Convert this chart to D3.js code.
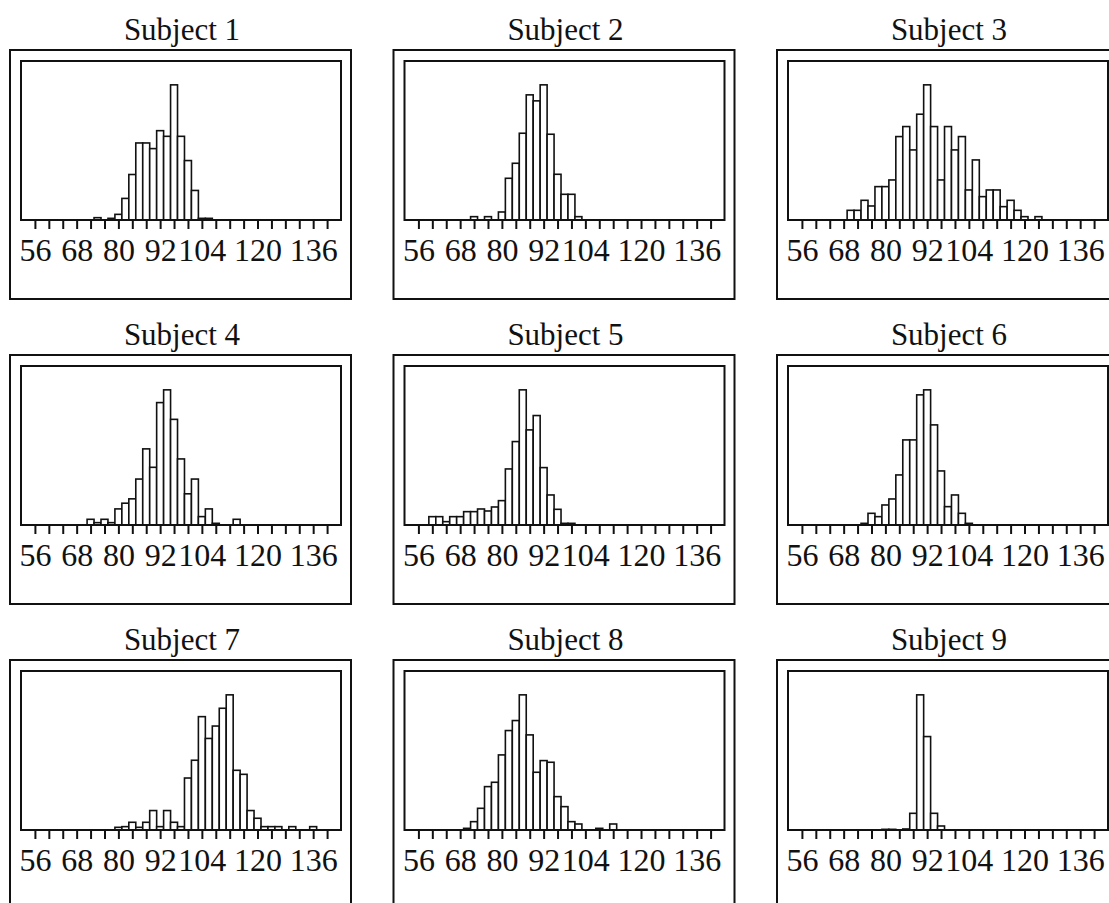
<!DOCTYPE html>
<html>
<head>
<meta charset="utf-8">
<script src="https://cdn.jsdelivr.net/npm/d3@7"></script>
<style>
  body { margin: 0; background: #fff; }
  text { font-family: "Liberation Serif", "Times New Roman", serif; fill: #111; }
</style>
</head>
<body>
<script>
// panel titles
var titles = ["Subject 1", "Subject 2", "Subject 3", "Subject 4", "Subject 5",
              "Subject 6", "Subject 7", "Subject 8", "Subject 9"];

// all bins are 2 units wide, the first bin of each subject starts here
var binWidth = 2;
var firstBin = [73, 71, 69, 71, 59, 73, 79, 69, 79];

// bar heights (tallest bar ~ 40)
var s1 = [0.7, 0, 0.5, 1.7, 6.5, 13.7, 23.2, 23.2, 21.5, 26.9, 25.2, 40.7, 25.2, 17.9, 8.9, 0.5, 0.5];
var s2 = [1, 0, 1, 0, 2.4, 12.5, 17, 26, 37.5, 35.7, 40.5, 25.7, 13.7, 7.7, 7.7, 1];
var s3 = [2.9, 2.9, 5.9, 4.2, 10, 10, 12, 25, 28, 21, 31.7, 40.5, 28, 12, 28, 21, 25, 9, 18, 7, 9, 9, 4, 5.9, 2.9, 1, 0, 1];
var s4 = [1.7, 0.7, 1.7, 0.7, 4.8, 6.5, 7.8, 13.7, 22.7, 17.2, 36.5, 40.3, 31.5, 19.7, 9.3, 13.7, 2.5, 4.8, 0.5, 0, 0, 1.7];
var s5 = [2.5, 2.5, 1, 2.5, 2.5, 4, 4, 4.8, 4.2, 5.4, 7.3, 16.8, 25, 40.5, 28.5, 32.8, 17.2, 9, 4.7, 0.5, 0.5];
var s6 = [0.5, 3.5, 2.5, 6, 7.8, 15, 25.5, 25.5, 39, 40.5, 30, 16.2, 5.5, 9, 3.5, 0.5];
var s7 = [0.8, 1, 2.3, 0.8, 2.3, 5.8, 1, 5.8, 2.3, 1, 15.5, 20.8, 33.8, 27.3, 31, 36.3, 40.3, 17.8, 16.6, 5.8, 3.5, 1, 1, 1, 0, 1, 0, 0, 1];
var s8 = [0.5, 2.5, 6.5, 13, 14.3, 22.5, 29.8, 32.8, 40.5, 28.5, 17.3, 20.8, 20.3, 10, 7, 2.5, 1.8, 0, 0, 0.5, 0, 1.8];
var s9 = [0.2, 0.2, 0, 0.3, 5, 40.5, 28, 5, 1.2];
var heights = [s1, s2, s3, s4, s5, s6, s7, s8, s9];

// x axis
var tickValues = [56, 60, 64, 68, 72, 76, 80, 84, 88, 92, 96, 100, 104, 108, 112, 116, 120, 124, 128, 132, 136, 140];
var tickLabels = [56, 68, 80, 92, 104, 120, 136];

var W = 1109, H = 903;
var plotW = 320, plotH = 159;

var svg = d3.select("body").append("svg").attr("width", W).attr("height", H);

var x = d3.scaleLinear().domain([52, 144]).range([0, plotW]);

titles.forEach(function(title, i){
  var col = i % 3, row = Math.floor(i / 3);
  var g = svg.append("g")
      .attr("transform", "translate(" + (21 + col * 383.5) + "," + (61 + row * 305) + ")");

  var bins = heights[i].map(function(v, k){
    return {x0: firstBin[i] + k * binWidth, x1: firstBin[i] + (k + 1) * binWidth, n: v};
  });

  // tallest bar fills about 85% of the plot height
  var y = d3.scaleLinear()
      .domain([0, d3.max(bins, d => d.n) / 0.85])
      .range([plotH, 0]);

  // outer frame
  g.append("rect")
      .attr("x", -11).attr("y", -11)
      .attr("width", plotW + 21).attr("height", 249)
      .attr("fill", "none").attr("stroke", "#111").attr("stroke-width", 2);

  g.append("text")
      .attr("x", plotW / 2 + 1).attr("y", -21)
      .attr("text-anchor", "middle")
      .style("font-size", "31px")
      .text(title);

  g.selectAll(".bar").data(bins.filter(d => d.n > 0)).enter()
    .append("rect").attr("class", "bar")
      .attr("x", d => x(d.x0))
      .attr("width", d => x(d.x1) - x(d.x0))
      .attr("y", d => y(d.n))
      .attr("height", d => plotH - y(d.n))
      .attr("fill", "#fff").attr("stroke", "#111").attr("stroke-width", 1.6);

  // inner plot box
  g.append("rect")
      .attr("width", plotW).attr("height", plotH)
      .attr("fill", "none").attr("stroke", "#111").attr("stroke-width", 2);

  var axis = d3.axisBottom(x)
      .tickValues(tickValues)
      .tickSize(9)
      .tickPadding(9)
      .tickFormat(d => tickLabels.indexOf(d) >= 0 ? d : "");

  var ax = g.append("g").attr("transform", "translate(0," + plotH + ")").call(axis);
  ax.select(".domain").remove();
  ax.selectAll("line").attr("stroke", "#111").attr("stroke-width", 2);
  ax.selectAll("text")
      .style("font-size", "32px")
      .style("font-family", "'Liberation Serif', 'Times New Roman', serif")
      .attr("fill", "#111");
});
</script>
</body>
</html>
